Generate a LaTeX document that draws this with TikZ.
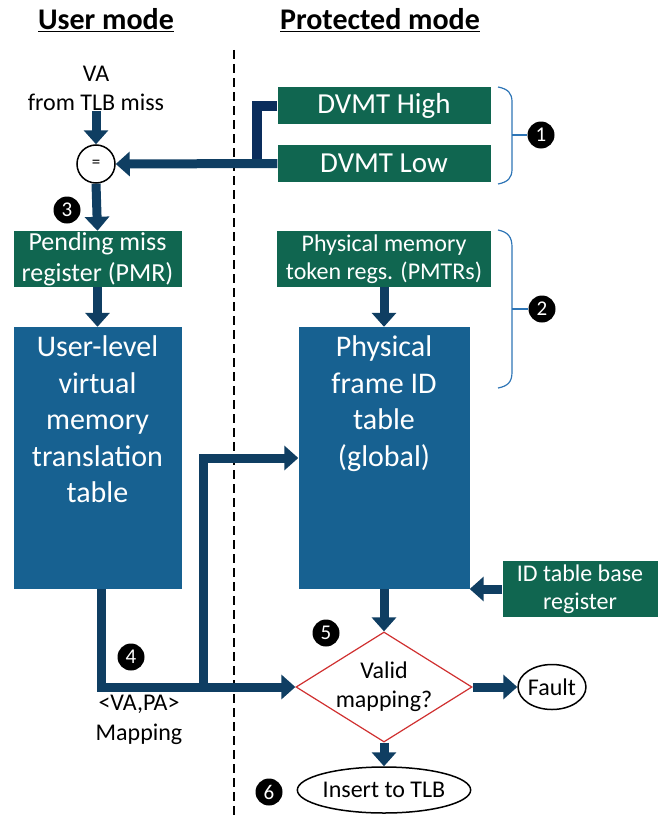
\documentclass[tikz,border=0pt]{standalone}
\usepackage{fontspec}
\setmainfont{Carlito}
\usetikzlibrary{positioning,shapes.geometric,arrows.meta}
\definecolor{regGreen}{RGB}{16,102,80}
\definecolor{tabBlue}{RGB}{23,97,145}
\definecolor{flowNavy}{RGB}{15,62,98}
\definecolor{darkNavy}{RGB}{10,45,92}
\definecolor{braceBlue}{RGB}{46,117,182}
\definecolor{chkRed}{RGB}{208,48,48}
\newcommand{\pxfont}[2]{\fontsize{#1pt}{#2pt}\selectfont}
\begin{document}
\begin{tikzpicture}[
        x=1pt, y=-1pt,
        reg/.style={fill=regGreen, text=white, align=center, inner sep=0pt},
        tab/.style={fill=tabBlue, minimum height=262pt, inner sep=0pt},
        tabtext/.style={text=white, align=center, inner sep=0pt, font=\pxfont{30}{36.5}},
        flow/.style={line width=9pt, draw=flowNavy, -{Triangle[width=24pt,length=14pt]}},
        endcap/.style={draw, ellipse, line width=1.5pt, inner sep=0pt, font=\pxfont{24}{29}},
        numdot/.style={circle, fill=black, text=white, inner sep=0pt, minimum size=27pt, font=\pxfont{21}{21}},
        curly/.style={draw=braceBlue, line width=1.2pt}
    ]
        \useasboundingbox (0,0) rectangle (657,816);
        % Mode headings and divider
        \node[font=\bfseries\pxfont{30}{36}] (umode) at (106,20) {\underline{User mode}};
        \node[font=\bfseries\pxfont{30}{36}] (pmode) at (380,20) {\underline{Protected mode}};
        \draw[line width=1.5pt, dash pattern=on 9pt off 5pt] (234,50) -- (234,816);

        % User side
        \node[align=center, font=\pxfont{24}{29}, inner sep=1pt] (vain) at (96,88) {VA\\from TLB miss};
        \node[draw, circle, line width=1.5pt, minimum size=38pt, inner sep=0pt, font=\pxfont{17}{17}] (eq) at (96,164) {=};
        \node[reg, minimum width=168pt, minimum height=56pt, font=\pxfont{26}{31}] (pmr) at (97.5,259) {Pending miss\\register (PMR)};
        \node[tab, minimum width=168pt] (uvmt) at (97.5,458) {};
        \node[tabtext, below=9pt of uvmt.north] (uvmtlbl) {User-level\\virtual\\memory\\translation\\table};
        \node[align=center, font=\pxfont{24}{30}] (maplbl) at (139,720) {<VA,PA>\\Mapping};

        % Protected side
        \node[reg, minimum width=213pt, minimum height=37pt, font=\pxfont{29}{29}] (dhigh) at (384,105.5) {DVMT High};
        \node[reg, minimum width=213pt, minimum height=37pt, font=\pxfont{29}{29}] (dlow) at (384,163.5) {DVMT Low};
        \node[reg, minimum width=214pt, minimum height=56pt, font=\pxfont{24}{28}] (pmtr) at (384,259) {Physical memory\\token regs. (PMTRs)};
        \node[tab, minimum width=171pt] (pfid) at (384,458) {};
        \node[tabtext, below=9pt of pfid.north] (pfidlbl) {Physical\\frame ID\\table\\(global)};
        \node[reg, minimum width=155pt, minimum height=56pt, font=\pxfont{24}{28}] (idbase) at (580,589) {ID table base\\register};
        \node[diamond, draw=chkRed, line width=1.2pt, fill=white, aspect=1.6, inner sep=0pt, align=center, font=\pxfont{24}{29}] (chk) at (384,687) {Valid\\mapping?};
        \node[endcap, minimum width=66pt, minimum height=45pt] (fault) at (552,687) {Fault};
        \node[endcap, minimum width=173pt, minimum height=46pt] (tlb) at (384,790) {Insert to TLB};

        % Brackets and step numbers
        \draw[curly] (498,87) .. controls (508,89) and (512,93) .. (512,102) -- (512,169) .. controls (512,178) and (508,182) .. (498,184);
        \draw[curly] (498,230) .. controls (508,232) and (512,237) .. (512,247) -- (512,372) .. controls (512,382) and (508,386) .. (498,388);
        \foreach \n/\x/\y in {1/541/135,2/542/309,3/67/210,4/131/657,5/326/633,6/269/792}
        {
            \node[numdot] (n\n) at (\x,\y) {\n};
        }
        \coordinate (b1) at (512,135);
        \coordinate (b2) at (512,309);
        \draw[curly] (b1) -- (n1.west);
        \draw[curly] (b2) -- (n2.west);

        % Connectors
        \draw[line width=10pt, draw=darkNavy] (dhigh.west) -| ([xshift=-20pt]dlow.west);
        \draw[flow] (dlow.west) -- (eq.east);
        \draw[flow] (vain.south) -- (eq.north);
        \draw[flow] (eq.south) -- (pmr.north);
        \draw[flow] (pmr.south) -- (uvmt.north);
        \draw[flow] (pmtr.south) -- (pfid.north);
        \draw[flow] ([xshift=3.5pt]uvmt.south) |- (chk.west);
        \coordinate (split) at (203,687);
        \draw[flow] (split) |- (pfid.west);
        \draw[flow] (pfid.south) -- (chk.north);
        \draw[flow] (idbase.west) -- (idbase.west -| pfid.east);
        \draw[flow] (chk.east) -- (fault.west);
        \draw[flow] (chk.south) -- (tlb.north);
    \end{tikzpicture}
\end{document}
